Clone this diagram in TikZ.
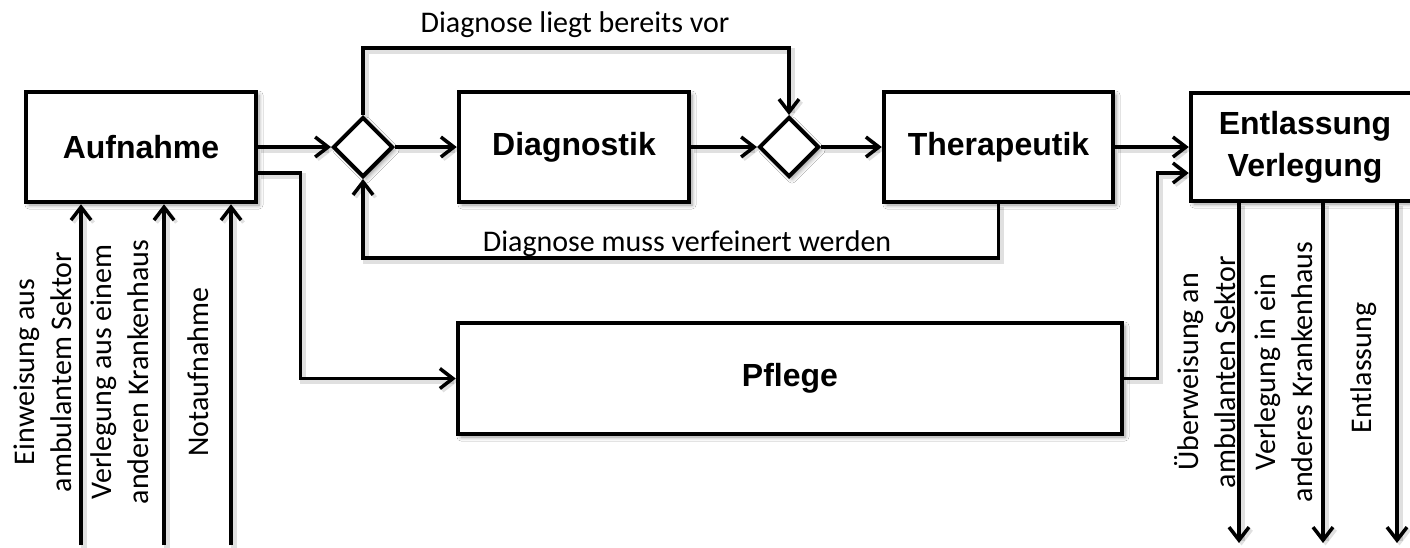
\documentclass[tikz,border=0pt]{standalone}
\usepackage{fontspec}
\setmainfont{Carlito}
\newfontfamily\labelfont{Liberation Sans}
\usetikzlibrary{arrows.meta,shapes.geometric,shadows.blur,calc}

\begin{document}
\begin{tikzpicture}[x=1pt,y=-1pt,
  boxshade/.style={blur shadow={shadow xshift=3pt,shadow yshift=-3pt,
      shadow blur radius=4pt,shadow blur steps=6,shadow opacity=40}},
  lineshade/.style={preaction={draw=black,opacity=0.12,line width=6pt,
      transform canvas={xshift=2.5pt,yshift=-2.5pt}}},
  stage/.style={draw,line width=4.5pt,fill=white,minimum height=110pt,
      inner sep=0pt,align=center,
      font=\labelfont\bfseries\fontsize{32}{42}\selectfont,boxshade},
  gate/.style={diamond,draw,line width=4pt,fill=white,minimum width=60pt,
      minimum height=60pt,inner sep=0pt,boxshade},
  flow/.style={line width=3.5pt,lineshade,
      -{Straight Barb[length=13pt,width=20pt,line width=3.5pt]}},
  link/.style={line width=3.5pt,lineshade},
  note/.style={font=\fontsize{30}{37}\selectfont,align=center,inner sep=0pt},
  side/.style={note,rotate=90},
]
\path[use as bounding box,clip] (0,0) rectangle (1410,547);
\fill[white] (0,0) rectangle (1410,547);

% main stages
\node[stage,minimum width=230pt] (auf) at (141,147) {Aufnahme};
\node[gate] (d1) at (363,147) {};
\node[stage,minimum width=230pt] (diag) at (574,147) {Diagnostik};
\node[gate] (d2) at (789,147) {};
\node[stage,minimum width=229pt] (ther) at (998.5,147) {Therapeutik};
\node[stage,minimum width=228pt,minimum height=108pt] (ent) at (1305,147) {Entlassung\\Verlegung};
\node[stage,minimum width=664pt,minimum height=111pt] (pfl) at (790,378.5) {Pflege};

% routing points
\coordinate (skip) at (789,48);
\coordinate (back) at (363,258);
\coordinate (in1) at (81,545);
\coordinate (in2) at (164,545);
\coordinate (in3) at (231,545);
\coordinate (out1) at (1239,543);
\coordinate (out2) at (1323,543);
\coordinate (out3) at (1397,543);

% main flow
\draw[flow] (auf.east) -- (d1.west);
\draw[flow] (d1.east) -- (diag.west);
\draw[flow] (diag.east) -- (d2.west);
\draw[flow] (d2.east) -- (ther.west);
\draw[flow] (ther.east) -- (ent.west);
\draw[flow] (d1.north) |- (skip) -- (d2.north);
\draw[flow] (ther.south) |- (back) -- (d1.south);
\draw[flow] ($(auf.east)+(0,26)$) -- ++(42,0) |- (pfl.west);
\draw[flow] (pfl.east) -- ++(33,0) |- ($(ent.west)+(0,26)$);

% admissions
\draw[flow] (in1) -- (in1 |- auf.south);
\draw[flow] (in2) -- (in2 |- auf.south);
\draw[flow] (in3) -- (in3 |- auf.south);

% discharges
\draw[flow] (out1 |- ent.south) -- (out1);
\draw[flow] (out2 |- ent.south) -- (out2);
\draw[flow] (out3 |- ent.south) -- (out3);

% labels
\node[note,anchor=base] (lskip) at (575,32) {Diagnose liegt bereits vor};
\node[note,anchor=base] (lback) at (687,251) {Diagnose muss verfeinert werden};
\node[side] (l1) at (43,372) {Einweisung aus\\ambulantem Sektor};
\node[side] (l2) at (120,372) {Verlegung aus einem\\anderen Krankenhaus};
\node[side] (l3) at (198,372) {Notaufnahme};
\node[side] (r1) at (1205,372) {Überweisung an\\ambulanten Sektor};
\node[side] (r2) at (1284,372) {Verlegung in ein\\anderes Krankenhaus};
\node[side] (r3) at (1364,368) {Entlassung};
\end{tikzpicture}
\end{document}
